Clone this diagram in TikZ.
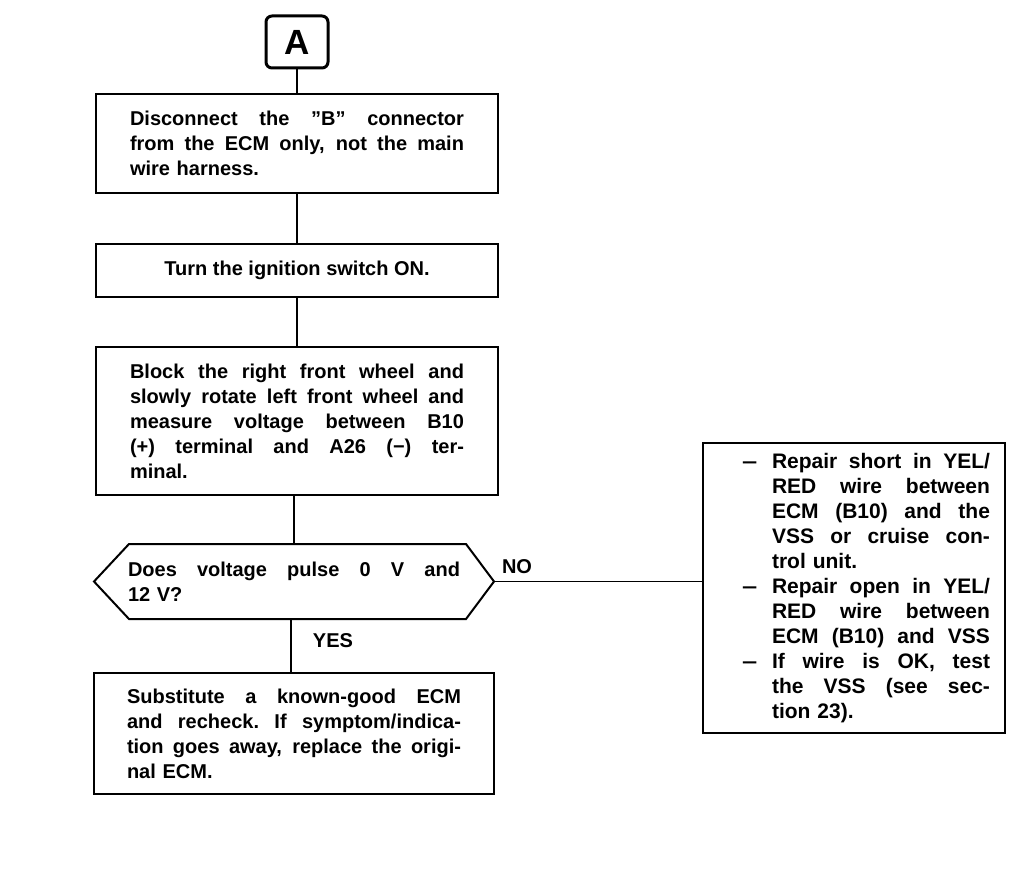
\documentclass[tikz,border=0pt]{standalone}
\usepackage{fontspec}
\setmainfont{Liberation Sans}
\newcommand\jsp{\spaceskip=.28em plus 1fil\relax\xspaceskip=\spaceskip}
\newcommand\jl[2][334pt]{\makebox[#1][s]{\jsp #2}}
\newcommand\ditem[1]{\hspace*{24pt}\makebox[30pt][l]{\scalebox{1.3}[1]{–}}\makebox[218pt][s]{\jsp #1}}
\newcommand\dcont[1]{\hspace*{54pt}\makebox[218pt][s]{\jsp #1}}
\newcommand\dlast[1]{\hspace*{54pt}\makebox[218pt][l]{#1}}
\begin{document}
\begin{tikzpicture}[x=1pt,y=-1pt,
  box/.style={draw, line width=2pt, inner sep=0pt, align=left,
    font=\fontsize{20}{25}\selectfont\bfseries},
  conn/.style={line width=2.8pt},
  lbl/.style={inner sep=0pt, font=\fontsize{20}{25}\selectfont\bfseries}]
\useasboundingbox (0,0) rectangle (1024,888);

\node[draw, line width=3pt, rounded corners=6pt, minimum width=62pt, minimum height=52pt,
  inner sep=0pt, font=\fontsize{35}{40}\selectfont\bfseries] (A) at (297,42) {A};

\node[box, minimum width=402pt, minimum height=99pt, text width=334pt] (b1) at (297,143.5)
  {\jl{Disconnect the ''B'' connector}\\
   \jl{from the ECM only, not the main}\\
   wire harness.};

\node[box, align=center, minimum width=402pt, minimum height=53pt] (b2) at (297,270.5)
  {Turn the ignition switch ON.};

\node[box, minimum width=402pt, minimum height=148pt, text width=334pt] (b3) at (297,421)
  {\jl{Block the right front wheel and}\\
   \jl{slowly rotate left front wheel and}\\
   \jl{measure voltage between B10}\\
   \jl{(+) terminal and A26 (−) ter-}\\
   minal.};

\node[box, draw=none, minimum width=398pt, minimum height=73pt, text width=332pt] (dec) at (294,581.5)
  {\jl[332pt]{Does voltage pulse 0 V and}\\
   12 V?};
\draw[line width=2pt] (dec.west) -- ([xshift=35pt]dec.north west) -- ([xshift=-28pt]dec.north east)
  -- (dec.east) -- ([xshift=-28pt]dec.south east) -- ([xshift=35pt]dec.south west) -- cycle;

\node[box, minimum width=400pt, minimum height=121pt, text width=334pt] (b4) at (294,733.5)
  {\jl{Substitute a known-good ECM}\\
   \jl{and recheck. If symptom/indica-}\\
   \jl{tion goes away, replace the origi-}\\
   nal ECM.};

\node[box, minimum width=302pt, minimum height=290pt, text width=272pt,
  font=\fontsize{21}{25}\selectfont\bfseries] (r) at (854,588)
  {\ditem{Repair short in YEL/}\\
   \dcont{RED wire between}\\
   \dcont{ECM (B10) and the}\\
   \dcont{VSS or cruise con-}\\
   \dlast{trol unit.}\\
   \ditem{Repair open in YEL/}\\
   \dcont{RED wire between}\\
   \dcont{ECM (B10) and VSS}\\
   \ditem{If wire is OK, test}\\
   \dcont{the VSS (see sec-}\\
   \dlast{tion 23).}};

\draw[conn] (A.south) -- (A.south |- b1.north);
\draw[conn] (b1.south) -- (b1.south |- b2.north);
\draw[conn] (b2.south) -- (b2.south |- b3.north);
\draw[conn] ([xshift=-3pt]b3.south) -- ([xshift=-3pt]b3.south |- dec.north);
\draw[conn] ([xshift=-3pt]dec.south) -- ([xshift=-3pt]dec.south |- b4.north);
\draw[line width=1.8pt] (dec.east) -- (dec.east -| r.west);

\node[lbl] (no) at (517,567) {NO};
\node[lbl] (yes) at (333,641) {YES};
\end{tikzpicture}
\end{document}
